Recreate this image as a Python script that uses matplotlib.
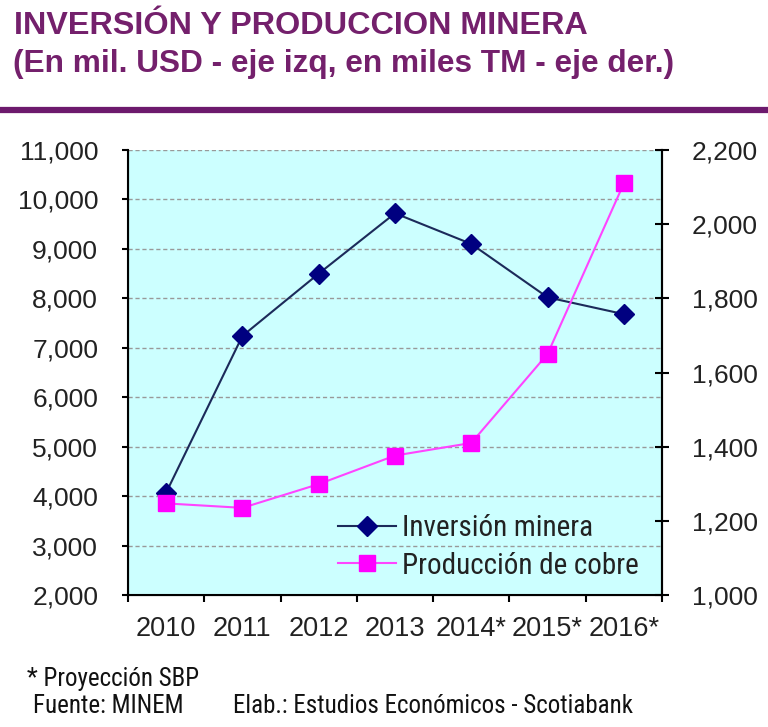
import matplotlib
matplotlib.use("Agg")
import matplotlib.pyplot as plt
from matplotlib.ticker import FuncFormatter, FixedLocator

years = ["2010", "2011", "2012", "2013", "2014*", "2015*", "2016*"]
inversion = [4070, 7240, 8500, 9720, 9100, 8020, 7680]
produccion = [1247, 1235, 1299, 1376, 1410, 1650, 2110]

title1 = "INVERSIÓN Y PRODUCCION MINERA"
title2 = "(En mil. USD - eje izq, en miles TM - eje der.)"
note1 = "* Proyección SBP"
note2a = "Fuente: MINEM"
note2b = "Elab.: Estudios Económicos - Scotiabank"

plt.rcParams['font.family'] = ['Liberation Sans', 'DejaVu Sans']
cond = ['Roboto Condensed', 'DejaVu Sans']

W, H = 768, 727
purple = "#74206c"
fig = plt.figure(figsize=(W/100, H/100), dpi=100)
fig.patch.set_facecolor("white")

fig.text(14/W, 1-26/H, title1, color=purple, fontsize=23.3, fontweight="bold", va="center", ha="left")
fig.text(13/W, 1-64/H, title2, color=purple, fontsize=22.8, fontweight="bold", va="center", ha="left")
fig.add_artist(plt.Line2D([0, 1], [1-110/H, 1-110/H], color="#6d1a6d", lw=4.5, transform=fig.transFigure))

ax = fig.add_axes([128/W, 1-595/H, 534/W, 445/H])
ax.set_facecolor("#ccffff")
x = list(range(len(years)))
ax.set_xlim(-0.5, len(years)-0.5)
ax.set_ylim(2000, 11000)
ax.set_yticks(range(2000, 11001, 1000))
ax.yaxis.set_major_formatter(FuncFormatter(lambda v, p: f"{int(v):,}"))
ax.grid(axis="y", color="#999999", linestyle=(0, (3, 2)), linewidth=1)
ax.set_axisbelow(True)
ax.spines["top"].set_visible(False)
for s in ["left", "bottom", "right"]:
    ax.spines[s].set_linewidth(1.5)
ax.set_xticks(x)
ax.set_xticklabels(years)
ax.xaxis.set_minor_locator(FixedLocator([i - 0.5 for i in range(len(years)+1)]))
ax.tick_params(axis="x", which="major", length=0, labelsize=19.5, pad=15, labelcolor="#222222")
ax.tick_params(axis="x", which="minor", length=5, width=1.5, direction="out")
ax.tick_params(axis="y", length=4, width=1.5, direction="out", labelsize=19, pad=17.5, labelcolor="#222222")

l1, = ax.plot(x, inversion, color="#1c2a5a", lw=1.5, marker="D", markersize=10,
              markerfacecolor="#000080", markeredgecolor="#000080", label="Inversión minera", zorder=3)

ax2 = ax.twinx()
ax2.set_ylim(1000, 2200)
ax2.set_yticks(range(1000, 2201, 200))
ax2.yaxis.set_major_formatter(FuncFormatter(lambda v, p: f"{int(v):,}"))
ax2.tick_params(axis="y", length=10, width=1.5, direction="inout", labelsize=19, pad=16.5, labelcolor="#222222")
ax2.spines["top"].set_visible(False)
ax2.spines["right"].set_linewidth(1.5)
l2, = ax2.plot(x, produccion, color="#ff44ff", lw=1.5, marker="s", markersize=12,
               markerfacecolor="#ff00ff", markeredgecolor="#ff00ff", label="Producción de cobre", zorder=3)

leg = fig.legend(handles=[l1, l2], loc="upper left", bbox_to_anchor=(338/W, 1-514/H),
                 frameon=False, prop={'family': cond, 'size': 21}, handlelength=2.0,
                 handletextpad=0.2, labelspacing=0.33, borderpad=0, borderaxespad=0)
for t in leg.get_texts():
    t.set_color("#222222")

fig.text(27/W, 1-679/H, note1, fontsize=18, family=cond, va="center", ha="left", color="#111111")
fig.text(33/W, 1-706/H, note2a, fontsize=18, family=cond, va="center", ha="left", color="#111111")
fig.text(233/W, 1-706/H, note2b, fontsize=18, family=cond, va="center", ha="left", color="#111111")

fig.savefig("out.png", dpi=100)
